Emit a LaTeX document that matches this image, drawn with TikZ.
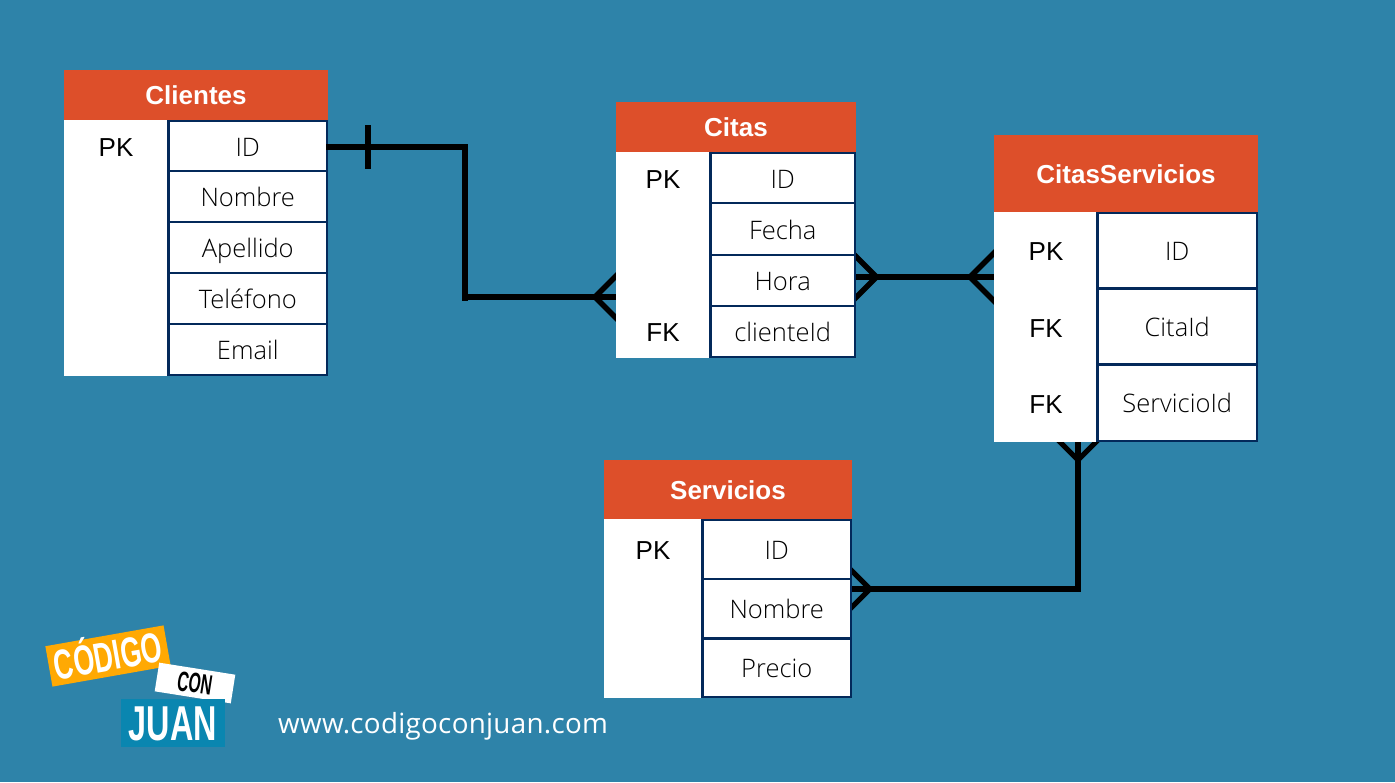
\documentclass[tikz,border=0pt]{standalone}
\usepackage{fontspec}
\usetikzlibrary{calc}
\setmainfont{Liberation Sans}
\newfontfamily\cellfont{Open Sans Light}
\newfontfamily\urlfont[LetterSpace=1.0]{Open Sans}
\pgfdeclarelayer{bg}
\pgfsetlayers{bg,main}
\definecolor{bgc}{HTML}{2E83A9}
\definecolor{headc}{HTML}{DD4F2A}
\definecolor{navyc}{HTML}{03295A}
\definecolor{orangec}{HTML}{FFA903}
\definecolor{juanc}{HTML}{0A86B0}
\tikzset{
  x=1pt,y=-1pt,
  headbox/.style={fill=headc,text=white,inner sep=0pt,font=\fontsize{26}{26}\selectfont\bfseries,text height=19pt,text depth=0pt},
  whitecol/.style={fill=white,inner sep=0pt},
  cellbox/.style={fill=white,draw=navyc,line width=2.8pt,inner sep=0pt,text=black,font=\cellfont\fontsize{25.5}{25.5}\selectfont,text height=20pt,text depth=0pt},
  keytext/.style={inner sep=0pt,text=black,font=\fontsize{26}{26}\selectfont,text height=18pt,text depth=0pt},
  conn/.style={draw=black,line width=6pt},
  crow/.style={draw=black,line width=5.5pt,miter limit=10},
  logobox/.style={inner sep=0pt},
}
\newcommand{\tblhead}[6]{% name x0 y0 x1 y1 text
  \node[headbox,minimum width=#4pt-#2pt,minimum height=#5pt-#3pt] (#1) at ({(#2+#4)/2},{(#3+#5)/2}) {#6};}
\newcommand{\tblwhite}[5]{% name x0 y0 x1 y1
  \node[whitecol,minimum width=#4pt-#2pt,minimum height=#5pt-#3pt] (#1) at ({(#2+#4)/2},{(#3+#5)/2}) {};}
\newcommand{\tblcell}[6]{% name x0 y0 x1 y1 text
  \node[cellbox,minimum width=#4pt-#2pt,minimum height=#5pt-#3pt] (#1) at ({(#2+#4)/2},{(#3+#5)/2}) {#6};}
\begin{document}
\begin{tikzpicture}
\useasboundingbox (0,0) rectangle (1395,782);
\begin{pgfonlayer}{bg}
\fill[bgc] (0,0) rectangle (1395,782);
\end{pgfonlayer}

% Clientes
\tblhead{cli}{64}{70}{328}{120}{Clientes}
\tblwhite{cliw}{64}{120}{168}{376}
\tblcell{cliid}{168.5}{121}{327}{171}{ID}
\tblcell{clinom}{168.5}{171}{327}{222}{Nombre}
\tblcell{cliape}{168.5}{222}{327}{273}{Apellido}
\tblcell{clitel}{168.5}{273}{327}{324}{Teléfono}
\tblcell{cliema}{168.5}{324}{327}{375}{Email}
\node[keytext] (clipk) at (116,147) {PK};

% Citas
\tblhead{cit}{616}{102}{856}{152}{Citas}
\tblwhite{citw}{616}{152}{710}{358}
\tblcell{citid}{710.5}{153}{855}{203}{ID}
\tblcell{citfec}{710.5}{203}{855}{255}{Fecha}
\tblcell{cithor}{710.5}{255}{855}{306}{Hora}
\tblcell{citcli}{710.5}{306}{855}{357}{clienteId}
\node[keytext] (citpk) at (663,179) {PK};
\node[keytext] (citfk) at (663,332) {FK};

% CitasServicios
\tblhead{cs}{994}{135}{1258}{212}{CitasServicios}
\tblwhite{csw}{994}{212}{1097}{442}
\tblcell{csid}{1097.5}{213}{1257}{288.5}{ID}
\tblcell{cscit}{1097.5}{288.5}{1257}{364.5}{CitaId}
\tblcell{csser}{1097.5}{364.5}{1257}{441}{ServicioId}
\node[keytext] (cspk) at (1046,251) {PK};
\node[keytext] (csfka) at (1046,328) {FK};
\node[keytext] (csfkb) at (1046,404) {FK};

% Servicios
\tblhead{ser}{604}{460}{852}{519}{Servicios}
\tblwhite{serw}{604}{519}{702}{698}
\tblcell{serid}{702.5}{520}{851}{579}{ID}
\tblcell{sernom}{702.5}{579}{851}{638.5}{Nombre}
\tblcell{serpre}{702.5}{638.5}{851}{697}{Precio}
\node[keytext] (serpk) at (653,550) {PK};

% Connector Clientes - Citas
\coordinate (a1) at (465,147);
\coordinate (a2) at (465,297);
\coordinate (abar1) at (368,125);
\coordinate (abar2) at (368,169);
\coordinate (aap) at (595,297);
\coordinate (afa) at (622,270);
\coordinate (afb) at (622,324);
\draw[conn] ($(cliid.east |- a1)+(-2,0)$) -- (a1) -- ($(a2)+(0,4)$);
\draw[conn] (abar1) -- (abar2);
\begin{pgfonlayer}{bg}
\draw[conn] (a2) -- (citw.west |- a2);
\draw[crow] (afa) -- (aap) -- (afb);

% Connector Citas - CitasServicios
\coordinate (b0) at ($(cithor.east)+(0,-3.5)$);
\coordinate (bapl) at (876.5,277);
\coordinate (bfla) at (850,250.5);
\coordinate (bflb) at (850,303.5);
\coordinate (bapr) at (970,277);
\coordinate (bfra) at (1000,247);
\coordinate (bfrb) at (1000,307);
\draw[conn] (b0) -- (csw.west |- b0);
\draw[crow] (bfla) -- (bapl) -- (bflb);
\draw[crow] (bfra) -- (bapr) -- (bfrb);

% Connector CitasServicios - Servicios
\coordinate (c1) at (1078,589);
\coordinate (capt) at (1078,460);
\coordinate (cfta) at (1054,436);
\coordinate (cftb) at (1102,436);
\coordinate (capl) at (870,589);
\coordinate (cfla) at (846,565);
\coordinate (cflb) at (846,613);
\draw[conn,line cap=rect] (csw.south -| c1) -- (c1) -- (sernom.east |- c1);
\draw[crow,line width=5pt] (cfta) -- (capt) -- (cftb);
\draw[crow,line width=5pt] (cfla) -- (capl) -- (cflb);
\end{pgfonlayer}

% Logo
\node[logobox,fill=orangec,text=white,rotate=10,minimum width=120pt,minimum height=41pt,font=\bfseries\fontsize{42}{42}\selectfont,text height=30pt,text depth=0pt] (logoa) at (108,656) {\scalebox{.64}[1]{CÓDIGO}};
\node[logobox,fill=white,text=black,rotate=-9,minimum width=77pt,minimum height=29pt,font=\bfseries\fontsize{28}{28}\selectfont,text height=20pt,text depth=0pt] (logob) at (195,683) {\scalebox{.56}[1]{CON}};
\node[logobox,fill=juanc,text=white,minimum width=104pt,minimum height=48pt,font=\bfseries\fontsize{49}{49}\selectfont,text height=35pt,text depth=0pt] (logoc) at (173,723) {\scalebox{.66}[1]{JUAN}};

% URL
\node[inner sep=0pt,anchor=west,text=white,font=\urlfont\fontsize{27.8}{27.8}\selectfont] (url) at (278,726) {www.codigoconjuan.com};
\end{tikzpicture}
\end{document}
